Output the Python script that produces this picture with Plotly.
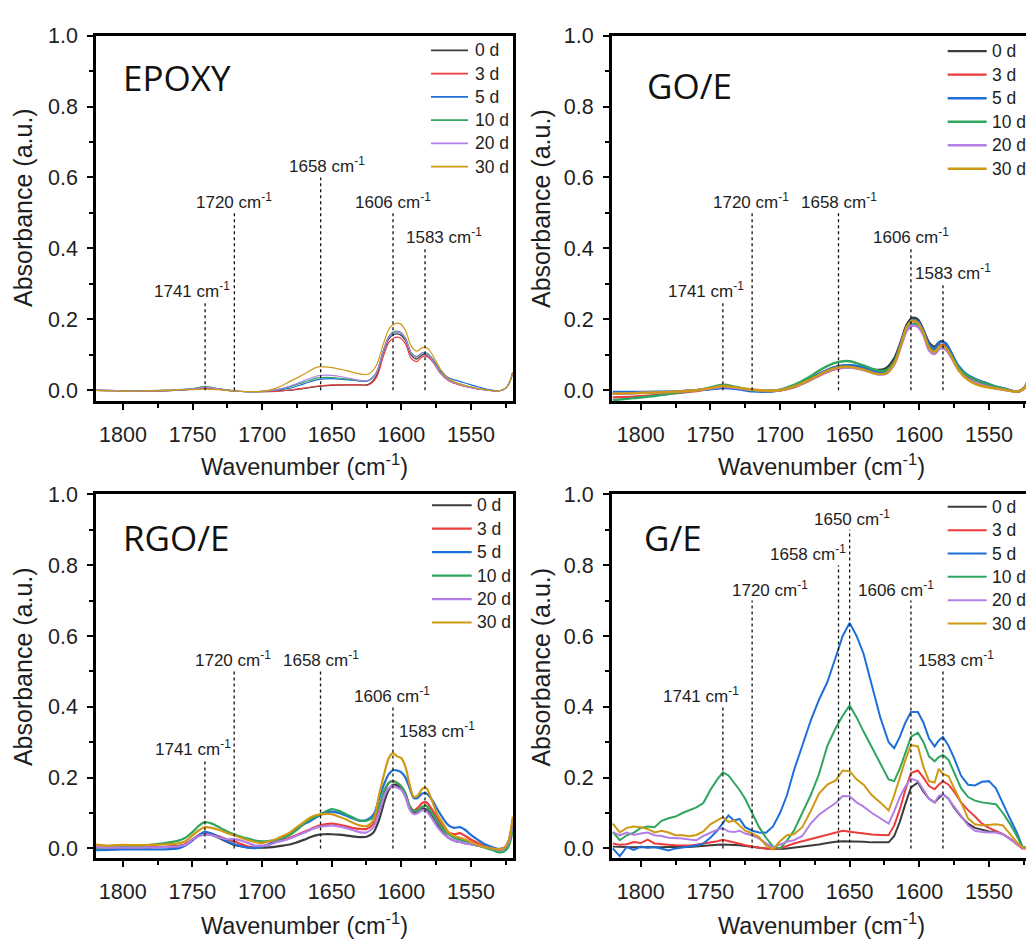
import plotly.graph_objects as go

FIG_W, FIG_H = 1026, 943

DAYS = ["0 d", "3 d", "5 d", "10 d", "20 d", "30 d"]
COLORS = ["#3c3c3c", "#ef3b3b", "#1f6fd8", "#2fa55f", "#b37fe6", "#cf9914"]

# ---------------- wavenumber grids (cm-1) ----------------
WN_SMOOTH = [1820, 1805, 1790, 1775, 1760,
             1750, 1741, 1732, 1720, 1710, 1700,
             1690, 1680, 1670, 1660, 1650, 1640, 1630,
             1624, 1618, 1613, 1609, 1605, 1601, 1597, 1593, 1589, 1585, 1581, 1577,
             1572, 1566, 1560, 1553, 1545, 1537, 1530,
             1525, 1522, 1520]

WN_RGO = [1820, 1810, 1800, 1790, 1780, 1770, 1760,
          1755, 1750, 1745, 1741, 1736, 1730, 1725, 1720,
          1715, 1710, 1705, 1700, 1695, 1690, 1685, 1680, 1675, 1670,
          1665, 1660, 1655, 1650, 1645, 1640, 1635, 1630, 1625, 1620,
          1616, 1612, 1609, 1606, 1603, 1600, 1597, 1594, 1591, 1588, 1585, 1582,
          1578, 1574, 1570, 1566, 1562, 1558, 1554, 1550,
          1545, 1540, 1535, 1530,
          1526, 1523, 1520]

WN_GE = [1820, 1815, 1810, 1805, 1800, 1795, 1790, 1785, 1780, 1775, 1770, 1765, 1760, 1755, 1750, 1745,
         1741, 1737, 1733, 1729, 1725,
         1720, 1715, 1710, 1705, 1700, 1695, 1690,
         1684, 1678, 1672, 1666, 1660,
         1655, 1650, 1645, 1640,
         1634, 1628, 1622,
         1618, 1614, 1610, 1606,
         1601, 1597, 1593, 1589, 1586, 1583,
         1579, 1575, 1570, 1565, 1560, 1555, 1550, 1545, 1540, 1535, 1530,
         1526, 1522, 1520]

# ---------------- EPOXY absorbance ----------------
EPOXY_0D = [0.000, -0.001, -0.002, -0.002, 0.000,
            0.003, 0.006, 0.003, -0.002, -0.004, -0.004,
            -0.002, 0.000, 0.005, 0.011, 0.014, 0.015, 0.015,
            0.016, 0.040, 0.105, 0.145, 0.158, 0.157, 0.140, 0.100, 0.088, 0.100, 0.098, 0.080,
            0.050, 0.028, 0.018, 0.010, 0.004, 0.000, -0.002,
            0.006, 0.025, 0.050]
EPOXY_3D = [0.000, -0.001, -0.002, -0.002, 0.000,
            0.003, 0.006, 0.003, -0.002, -0.004, -0.004,
            -0.003, 0.001, 0.006, 0.012, 0.015, 0.015, 0.015,
            0.015, 0.035, 0.095, 0.135, 0.148, 0.148, 0.130, 0.090, 0.081, 0.095, 0.094, 0.077,
            0.048, 0.027, 0.017, 0.010, 0.004, 0.000, -0.002,
            0.006, 0.025, 0.050]
EPOXY_5D = [0.000, -0.001, -0.002, -0.001, 0.000,
            0.004, 0.008, 0.004, -0.002, -0.004, -0.003,
            0.000, 0.006, 0.018, 0.030, 0.033, 0.030, 0.026,
            0.026, 0.048, 0.110, 0.150, 0.163, 0.163, 0.145, 0.105, 0.094, 0.105, 0.103, 0.085,
            0.057, 0.035, 0.027, 0.019, 0.010, 0.002, -0.002,
            0.006, 0.025, 0.050]
EPOXY_10D = [0.000, -0.001, -0.001, 0.000, 0.002,
             0.005, 0.010, 0.005, -0.001, -0.004, -0.003,
             0.001, 0.010, 0.023, 0.035, 0.036, 0.032, 0.027,
             0.027, 0.050, 0.112, 0.152, 0.166, 0.165, 0.147, 0.107, 0.095, 0.105, 0.102, 0.083,
             0.053, 0.030, 0.020, 0.012, 0.005, 0.000, -0.002,
             0.006, 0.025, 0.050]
EPOXY_20D = [0.000, -0.001, -0.002, -0.001, 0.001,
             0.004, 0.008, 0.004, -0.002, -0.004, -0.003,
             0.002, 0.012, 0.027, 0.041, 0.042, 0.036, 0.028,
             0.028, 0.050, 0.110, 0.150, 0.163, 0.163, 0.145, 0.105, 0.093, 0.104, 0.100, 0.080,
             0.050, 0.028, 0.018, 0.010, 0.004, 0.000, -0.002,
             0.006, 0.025, 0.050]
EPOXY_30D = [0.000, -0.002, -0.002, -0.001, 0.001,
             0.002, 0.003, 0.002, -0.002, -0.004, -0.003,
             0.006, 0.025, 0.045, 0.066, 0.064, 0.056, 0.046,
             0.045, 0.070, 0.130, 0.172, 0.187, 0.188, 0.168, 0.125, 0.110, 0.120, 0.118, 0.095,
             0.060, 0.033, 0.020, 0.012, 0.005, 0.000, -0.002,
             0.006, 0.025, 0.050]

# ---------------- GO/E absorbance ----------------
GOE_0D = [-0.010, -0.008, -0.006, -0.004, 0.000,
          0.004, 0.008, 0.007, 0.000, -0.002, 0.000,
          0.010, 0.030, 0.050, 0.066, 0.070, 0.064, 0.057,
          0.062, 0.090, 0.140, 0.185, 0.204, 0.200, 0.170, 0.135, 0.123, 0.138, 0.132, 0.105,
          0.065, 0.040, 0.028, 0.018, 0.008, 0.002, -0.004,
          0.005, 0.025, 0.040]
GOE_3D = [-0.020, -0.018, -0.014, -0.008, -0.002,
          0.004, 0.008, 0.006, 0.000, -0.003, 0.000,
          0.008, 0.025, 0.045, 0.060, 0.065, 0.060, 0.050,
          0.050, 0.078, 0.130, 0.175, 0.195, 0.190, 0.165, 0.125, 0.113, 0.128, 0.125, 0.100,
          0.065, 0.040, 0.028, 0.015, 0.007, 0.001, -0.004,
          0.005, 0.025, 0.040]
GOE_5D = [-0.005, -0.005, -0.004, -0.003, 0.000,
          0.003, 0.006, 0.004, -0.003, -0.004, 0.000,
          0.010, 0.028, 0.050, 0.066, 0.071, 0.065, 0.050,
          0.052, 0.080, 0.135, 0.178, 0.198, 0.195, 0.168, 0.130, 0.118, 0.136, 0.132, 0.105,
          0.070, 0.045, 0.032, 0.022, 0.010, 0.003, -0.005,
          0.005, 0.025, 0.040]
GOE_10D = [-0.028, -0.022, -0.016, -0.008, 0.000,
           0.008, 0.016, 0.010, 0.000, -0.002, 0.002,
           0.015, 0.035, 0.060, 0.078, 0.082, 0.070, 0.056,
           0.056, 0.080, 0.130, 0.170, 0.186, 0.185, 0.160, 0.120, 0.110, 0.125, 0.120, 0.098,
           0.065, 0.043, 0.030, 0.020, 0.010, 0.002, -0.004,
           0.005, 0.025, 0.040]
GOE_20D = [-0.010, -0.008, -0.006, -0.004, 0.000,
           0.005, 0.010, 0.007, 0.001, -0.002, 0.000,
           0.010, 0.026, 0.046, 0.061, 0.064, 0.057, 0.045,
           0.046, 0.072, 0.125, 0.168, 0.182, 0.178, 0.155, 0.112, 0.102, 0.118, 0.114, 0.092,
           0.058, 0.034, 0.022, 0.012, 0.005, 0.000, -0.004,
           0.005, 0.025, 0.040]
GOE_30D = [-0.010, -0.008, -0.006, -0.004, 0.000,
           0.006, 0.012, 0.008, 0.002, -0.001, 0.000,
           0.010, 0.027, 0.048, 0.063, 0.066, 0.058, 0.046,
           0.048, 0.075, 0.130, 0.178, 0.197, 0.190, 0.162, 0.120, 0.108, 0.125, 0.120, 0.095,
           0.058, 0.032, 0.018, 0.010, 0.005, 0.000, -0.004,
           0.005, 0.025, 0.040]

# ---------------- RGO/E absorbance ----------------
RGOE_0D = [0.002, 0.001, 0.002, 0.002, 0.003, 0.004, 0.007,
           0.012, 0.025, 0.038, 0.044, 0.038, 0.028, 0.018, 0.010,
           0.006, 0.003, 0.002, 0.002, 0.003, 0.005, 0.008, 0.011, 0.017, 0.024,
           0.032, 0.038, 0.040, 0.040, 0.039, 0.037, 0.034, 0.032, 0.033, 0.045,
           0.080, 0.135, 0.165, 0.180, 0.178, 0.170, 0.150, 0.115, 0.100, 0.105, 0.113, 0.110,
           0.090, 0.065, 0.045, 0.030, 0.022, 0.018, 0.015, 0.012,
           0.008, 0.004, 0.000, -0.002,
           0.002, 0.020, 0.080]
RGOE_3D = [0.002, 0.002, 0.003, 0.003, 0.004, 0.004, 0.006,
           0.012, 0.025, 0.037, 0.045, 0.040, 0.033, 0.025, 0.020,
           0.012, 0.005, 0.002, 0.005, 0.012, 0.019, 0.025, 0.030, 0.038, 0.046,
           0.055, 0.063, 0.068, 0.070, 0.067, 0.063, 0.058, 0.055, 0.055, 0.070,
           0.110, 0.160, 0.185, 0.190, 0.185, 0.175, 0.155, 0.120, 0.107, 0.115, 0.128, 0.130,
           0.110, 0.085, 0.062, 0.045, 0.040, 0.043, 0.035, 0.025,
           0.015, 0.006, 0.000, -0.004,
           0.000, 0.015, 0.075]
RGOE_5D = [-0.005, -0.004, -0.003, -0.003, -0.003, -0.003, 0.000,
           0.008, 0.022, 0.038, 0.047, 0.042, 0.030, 0.020, 0.012,
           0.006, 0.002, 0.001, 0.005, 0.012, 0.020, 0.030, 0.040, 0.055, 0.068,
           0.078, 0.090, 0.100, 0.104, 0.100, 0.093, 0.085, 0.078, 0.080, 0.095,
           0.140, 0.185, 0.210, 0.221, 0.220, 0.215, 0.200, 0.170, 0.142, 0.143, 0.155, 0.155,
           0.138, 0.110, 0.085, 0.065, 0.058, 0.060, 0.052, 0.038,
           0.024, 0.012, 0.004, -0.002,
           0.000, 0.012, 0.060]
RGOE_10D = [0.000, 0.002, 0.004, 0.006, 0.010, 0.015, 0.022,
            0.030, 0.046, 0.065, 0.074, 0.070, 0.058, 0.048, 0.040,
            0.033, 0.028, 0.022, 0.020, 0.021, 0.023, 0.030, 0.038, 0.052, 0.070,
            0.083, 0.092, 0.103, 0.111, 0.106, 0.097, 0.088, 0.079, 0.078, 0.088,
            0.120, 0.165, 0.185, 0.190, 0.185, 0.175, 0.155, 0.120, 0.106, 0.108, 0.118, 0.120,
            0.100, 0.075, 0.055, 0.040, 0.030, 0.025, 0.020, 0.014,
            0.008, 0.002, -0.004, -0.011,
            -0.008, 0.005, 0.050]
RGOE_20D = [0.003, 0.002, 0.002, 0.002, 0.003, 0.004, 0.006,
            0.010, 0.025, 0.035, 0.039, 0.037, 0.030, 0.026, 0.026,
            0.022, 0.015, 0.008, 0.008, 0.010, 0.017, 0.022, 0.028, 0.036, 0.044,
            0.053, 0.060, 0.063, 0.065, 0.062, 0.058, 0.052, 0.046, 0.045, 0.060,
            0.100, 0.150, 0.170, 0.176, 0.172, 0.165, 0.145, 0.110, 0.097, 0.100, 0.108, 0.105,
            0.085, 0.060, 0.042, 0.030, 0.022, 0.018, 0.015, 0.012,
            0.008, 0.004, 0.000, -0.003,
            0.000, 0.015, 0.070]
RGOE_30D = [0.011, 0.008, 0.010, 0.009, 0.010, 0.011, 0.014,
            0.020, 0.037, 0.052, 0.060, 0.058, 0.051, 0.043, 0.037,
            0.030, 0.023, 0.018, 0.015, 0.020, 0.026, 0.035, 0.045, 0.060, 0.074,
            0.088, 0.095, 0.097, 0.097, 0.090, 0.082, 0.073, 0.065, 0.063, 0.080,
            0.150, 0.215, 0.255, 0.269, 0.260, 0.255, 0.230, 0.180, 0.145, 0.150, 0.168, 0.170,
            0.135, 0.095, 0.070, 0.045, 0.035, 0.030, 0.025, 0.018,
            0.010, 0.004, 0.000, -0.003,
            0.002, 0.020, 0.090]

# ---------------- G/E absorbance ----------------
GE_0D = [0.005, 0.004, 0.005, 0.003, 0.004, 0.003, 0.004, 0.003, 0.004, 0.003, 0.004, 0.004, 0.005, 0.006, 0.008, 0.010,
         0.011, 0.011, 0.010, 0.009, 0.007,
         0.004, 0.002, 0.000, -0.001, -0.002, 0.000, 0.002,
         0.005, 0.008, 0.011, 0.015, 0.019,
         0.020, 0.020, 0.020, 0.019,
         0.017, 0.016, 0.017,
         0.035, 0.075, 0.125, 0.172,
         0.186, 0.160, 0.140, 0.130, 0.142, 0.153,
         0.140, 0.115, 0.090, 0.070, 0.058, 0.052, 0.048, 0.046, 0.040, 0.028, 0.012,
         0.003, 0.000, 0.005]
GE_3D = [0.014, 0.010, 0.012, 0.018, 0.015, 0.025, 0.014, 0.011, 0.010, 0.009, 0.008, 0.008, 0.010, 0.013, 0.016, 0.020,
         0.024, 0.021, 0.017, 0.013, 0.009,
         0.005, 0.002, 0.000, -0.002, 0.000, 0.008, 0.014,
         0.020, 0.026, 0.033, 0.040, 0.044,
         0.050, 0.047, 0.044, 0.042,
         0.039, 0.038, 0.037,
         0.065, 0.110, 0.165, 0.213,
         0.220, 0.200, 0.176, 0.167, 0.180, 0.190,
         0.180, 0.160, 0.130, 0.108, 0.090, 0.070, 0.058, 0.050, 0.040, 0.028, 0.012,
         0.000, 0.000, 0.005]
GE_5D = [0.000, -0.022, 0.004, -0.004, 0.005, 0.002, 0.004, 0.000, -0.006, 0.000, 0.002, 0.004, 0.008, 0.014, 0.030, 0.050,
         0.072, 0.093, 0.079, 0.083, 0.060,
         0.050, 0.045, 0.044, 0.062, 0.100, 0.150, 0.220,
         0.290, 0.360, 0.420, 0.470, 0.540,
         0.600, 0.637, 0.600, 0.550,
         0.460, 0.370, 0.300,
         0.283, 0.315, 0.355, 0.385,
         0.385, 0.355, 0.310, 0.288, 0.305, 0.315,
         0.290, 0.255, 0.205, 0.180, 0.178, 0.188, 0.190, 0.170, 0.125, 0.085, 0.045,
         0.005, 0.000, 0.008]
GE_10D = [0.046, 0.023, 0.037, 0.044, 0.058, 0.062, 0.060, 0.078, 0.085, 0.090, 0.100, 0.108, 0.116, 0.128, 0.165, 0.195,
          0.215, 0.206, 0.186, 0.165, 0.140,
          0.100, 0.060, 0.030, 0.005, 0.000, 0.022, 0.050,
          0.100, 0.150, 0.210, 0.290, 0.340,
          0.375, 0.404, 0.370, 0.330,
          0.285, 0.240, 0.195,
          0.190, 0.225, 0.270, 0.315,
          0.327, 0.300, 0.260, 0.246, 0.258, 0.264,
          0.250, 0.215, 0.170, 0.145, 0.135, 0.130, 0.128, 0.125, 0.100, 0.070, 0.035,
          0.005, 0.000, 0.008]
GE_20D = [0.046, 0.037, 0.045, 0.038, 0.042, 0.045, 0.037, 0.035, 0.030, 0.030, 0.028, 0.025, 0.023, 0.035, 0.045, 0.053,
          0.057, 0.048, 0.046, 0.050, 0.042,
          0.037, 0.028, 0.014, 0.003, 0.010, 0.019, 0.023,
          0.035, 0.070, 0.095, 0.112, 0.128,
          0.148, 0.147, 0.130, 0.118,
          0.100, 0.085, 0.070,
          0.105, 0.145, 0.175, 0.197,
          0.190, 0.165, 0.140, 0.130, 0.148, 0.153,
          0.140, 0.118, 0.090, 0.065, 0.050, 0.046, 0.045, 0.045, 0.040, 0.027, 0.012,
          0.002, 0.000, 0.005]
GE_30D = [0.070, 0.045, 0.058, 0.062, 0.060, 0.055, 0.045, 0.050, 0.045, 0.037, 0.037, 0.034, 0.038, 0.048, 0.068, 0.080,
          0.088, 0.075, 0.079, 0.065, 0.050,
          0.042, 0.032, 0.008, -0.003, 0.020, 0.037, 0.040,
          0.060, 0.105, 0.155, 0.180, 0.192,
          0.220, 0.218, 0.195, 0.180,
          0.150, 0.130, 0.107,
          0.150, 0.200, 0.250, 0.292,
          0.288, 0.230, 0.190, 0.186, 0.225, 0.210,
          0.204, 0.170, 0.130, 0.085, 0.068, 0.065, 0.066, 0.068, 0.065, 0.040, 0.018,
          0.003, 0.000, 0.005]

# ---------------- marked band positions (cm-1) ----------------
BANDS_STD = [1741, 1720, 1658, 1606, 1583]
BANDS_GE = [1741, 1720, 1658, 1650, 1606, 1583]


def px_x(px):
    return px / FIG_W


def px_y(py):
    return 1 - py / FIG_H


# Layout of each panel, in page pixels
PANELS = [
    dict(title="EPOXY", wn=WN_SMOOTH,
         series=[EPOXY_0D, EPOXY_3D, EPOXY_5D, EPOXY_10D, EPOXY_20D, EPOXY_30D],
         box=(96, 513, 25, 396), xrange=(1819.4, 1519.8), yrange=(-0.0306, 1.0),
         lw=1.2, shape="spline", right_line=True,
         bands=BANDS_STD, band_tops=[0.25, 0.50, 0.60, 0.50, 0.40],
         label_x=[1750.3, 1720.0, 1653.3, 1606.0, 1569.4],
         title_xy=(121, 67.5), legend=(431, 468, 474, 40.0, 23.6),
         xtitle_xy=(304, 461), ytitle_xy=(23, 200)),
    dict(title="GO/E", wn=WN_SMOOTH,
         series=[GOE_0D, GOE_3D, GOE_5D, GOE_10D, GOE_20D, GOE_30D],
         box=(611.7, 1026, 25, 396), xrange=(1820.8, 1523.4), yrange=(-0.0306, 1.0),
         lw=2.4, shape="spline", right_line=False,
         bands=BANDS_STD, band_tops=[0.25, 0.50, 0.50, 0.40, 0.30],
         label_x=[1753.2, 1720.7, 1657.5, 1606.0, 1575.6],
         title_xy=(645, 75.5), legend=(947.7, 986.7, 990.5, 40.7, 23.9),
         xtitle_xy=(821, 461), ytitle_xy=(541, 201)),
    dict(title="RGO/E", wn=WN_RGO,
         series=[RGOE_0D, RGOE_3D, RGOE_5D, RGOE_10D, RGOE_20D, RGOE_30D],
         box=(96, 513, 490.7, 860), xrange=(1819.2, 1519.8), yrange=(-0.0278, 1.0),
         lw=2.2, shape="spline", right_line=True,
         bands=BANDS_STD, band_tops=[0.25, 0.50, 0.50, 0.40, 0.30],
         label_x=[1749.4, 1721.0, 1657.4, 1606.7, 1574.2],
         title_xy=(120.7, 534), legend=(432, 471.7, 476, 501.7, 23.8),
         xtitle_xy=(304, 927), ytitle_xy=(23, 666)),
    dict(title="G/E", wn=WN_GE,
         series=[GE_0D, GE_3D, GE_5D, GE_10D, GE_20D, GE_30D],
         box=(611.7, 1026, 490.7, 860), xrange=(1820.8, 1523.4), yrange=(-0.0278, 1.0),
         lw=2.0, shape="linear", right_line=False,
         bands=BANDS_GE, band_tops=[0.40, 0.70, 0.80, 0.90, 0.70, 0.50],
         label_x=[1756.4, 1707.3, 1680.0, 1648.3, 1616.5, 1574.0],
         title_xy=(642.3, 534), legend=(947.7, 986.7, 990.5, 503.3, 23.7),
         xtitle_xy=(821, 927), ytitle_xy=(541, 666.5)),
]

TICK_FONT = dict(family="Liberation Sans, Arial, sans-serif", size=21.5, color="#1e1e1e")
LABEL_FONT = dict(family="Liberation Sans, Arial, sans-serif", size=17, color="#1e1e1e")
XTITLE_FONT = dict(family="Liberation Sans, Arial, sans-serif", size=23.5, color="#1e1e1e")
YTITLE_FONT = dict(family="Liberation Sans, Arial, sans-serif", size=25, color="#1e1e1e")
NAME_FONT = dict(family="Open Sans, Noto Sans, sans-serif", size=35, color="#111111")
LEG_FONT = dict(family="Liberation Sans, Arial, sans-serif", size=17.5, color="#1e1e1e")

fig = go.Figure()
annotations = []
shapes = []

for i, p in enumerate(PANELS, start=1):
    xa = "x" if i == 1 else f"x{i}"
    ya = "y" if i == 1 else f"y{i}"
    xkey = "xaxis" if i == 1 else f"xaxis{i}"
    ykey = "yaxis" if i == 1 else f"yaxis{i}"
    x0, x1, y0, y1 = p["box"]

    for name, color, vals in zip(DAYS, COLORS, p["series"]):
        assert len(vals) == len(p["wn"])
        fig.add_trace(go.Scatter(
            x=p["wn"], y=vals, mode="lines", name=name, showlegend=False,
            line=dict(color=color, width=p["lw"], shape=p["shape"],
                      smoothing=0.8 if p["shape"] == "spline" else None),
            xaxis=xa, yaxis=ya, hoverinfo="skip"))

    fig.update_layout({
        xkey: dict(domain=[px_x(x0), px_x(x1)], range=list(p["xrange"]),
                   anchor=ya, showgrid=False, zeroline=False,
                   showline=True, linecolor="#000", linewidth=2.5, mirror=True,
                   ticks="outside", ticklen=6, tickwidth=2, tickcolor="#000",
                   tickvals=[1800, 1750, 1700, 1650, 1600, 1550],
                   tickfont=TICK_FONT, ticklabelstandoff=6,
                   minor=dict(tickvals=[1825, 1775, 1725, 1675, 1625, 1575, 1525],
                              ticks="outside", ticklen=4, tickwidth=1.5, tickcolor="#000")),
        ykey: dict(domain=[px_y(y1), px_y(y0)], range=list(p["yrange"]),
                   anchor=xa, showgrid=False, zeroline=False,
                   showline=True, linecolor="#000", linewidth=2.5,
                   mirror=p["right_line"],
                   ticks="outside", ticklen=6, tickwidth=2, tickcolor="#000",
                   tickvals=[0, 0.2, 0.4, 0.6, 0.8, 1.0], tickformat=".1f",
                   tickfont=TICK_FONT, ticklabelstandoff=5,
                   minor=dict(tickvals=[0.1, 0.3, 0.5, 0.7, 0.9],
                              ticks="outside", ticklen=4, tickwidth=1.5, tickcolor="#000")),
    })

    # dotted band markers with their labels
    for wn, top, lx in zip(p["bands"], p["band_tops"], p["label_x"]):
        shapes.append(dict(type="line", xref=xa, yref=ya, x0=wn, x1=wn, y0=0, y1=top,
                           line=dict(color="#111", width=1.3, dash="dot"), layer="above"))
        annotations.append(dict(xref=xa, yref=ya, x=lx, y=top, yshift=12,
                                text=f"{wn} cm<sup>-1</sup>", showarrow=False,
                                xanchor="center", yanchor="middle", font=LABEL_FONT))

    # sample name
    tx, ty = p["title_xy"]
    annotations.append(dict(xref="paper", yref="paper", x=px_x(tx), y=px_y(ty),
                            text=p["title"], showarrow=False, xanchor="left",
                            yanchor="middle", font=NAME_FONT))

    # legend block
    lx0, lx1, ltx, ly, lstep = p["legend"]
    for k, (name, color) in enumerate(zip(DAYS, COLORS)):
        yy = ly + k * lstep
        shapes.append(dict(type="line", xref="paper", yref="paper",
                           x0=px_x(lx0), x1=px_x(lx1), y0=px_y(yy), y1=px_y(yy),
                           line=dict(color=color, width=max(p["lw"], 1.6))))
        annotations.append(dict(xref="paper", yref="paper", x=px_x(ltx), y=px_y(yy),
                                text=name, showarrow=False, xanchor="left",
                                yanchor="middle", font=LEG_FONT, borderpad=0))

    # axis titles
    ax_x, ax_y = p["xtitle_xy"]
    annotations.append(dict(xref="paper", yref="paper", x=px_x(ax_x), y=px_y(ax_y),
                            text="Wavenumber (cm<sup>-1</sup>)", showarrow=False,
                            xanchor="center", yanchor="middle", font=XTITLE_FONT))
    ay_x, ay_y = p["ytitle_xy"]
    annotations.append(dict(xref="paper", yref="paper", x=px_x(ay_x), y=px_y(ay_y),
                            text="Absorbance (a.u.)", showarrow=False, textangle=-90,
                            xanchor="center", yanchor="middle", font=YTITLE_FONT))

fig.update_layout(
    width=FIG_W, height=FIG_H,
    margin=dict(l=0, r=0, t=0, b=0),
    paper_bgcolor="white", plot_bgcolor="white",
    showlegend=False,
    annotations=annotations, shapes=shapes,
)

fig.write_html("out.html")
